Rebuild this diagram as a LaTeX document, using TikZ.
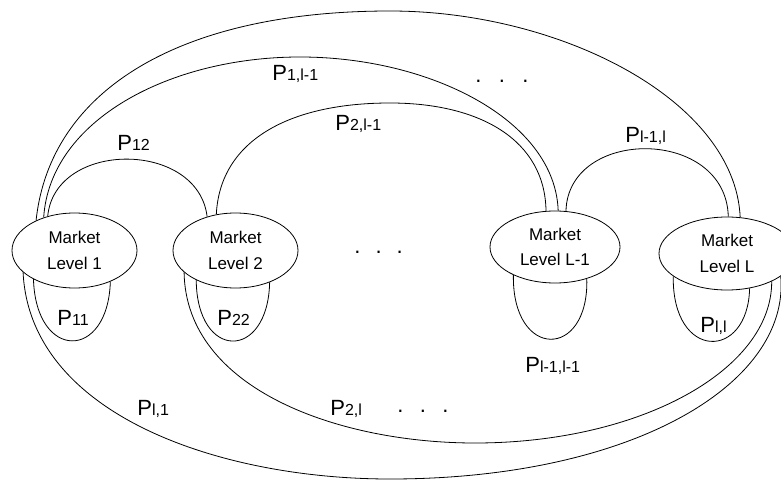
\documentclass[tikz,border=0pt]{standalone}
\usepackage{fontspec}
\setmainfont{Liberation Sans}
\usetikzlibrary{shapes.geometric}
% probability label: P with a smaller index on the same baseline
\newcommand\plab[1]{P{\fontsize{16}{19}\selectfont #1}}
\begin{document}
\begin{tikzpicture}[x=1pt, y=-1pt, line width=0.8pt,
  market/.style={draw, ellipse, inner sep=0pt, align=center,
    font=\fontsize{17}{25.7}\selectfont},
  lab/.style={anchor=base west, inner sep=0pt, font=\fontsize{22}{26}\selectfont}]
\useasboundingbox (0,0) rectangle (781,481);
\clip (0,0) rectangle (781,481);
\fill[white] (0,0) rectangle (781,481);

% market levels
\node[market, minimum width=125pt, minimum height=75pt] (m1) at (74.5,250.5) {Market\\Level 1};
\node[market, minimum width=125pt, minimum height=75pt] (m2) at (235.5,250.5) {Market\\Level 2};
\node[market, minimum width=130pt, minimum height=72pt] (m3) at (555,247) {Market\\Level L-1};
\node[market, minimum width=136pt, minimum height=73pt] (m4) at (727,253.5) {Market\\Level L};

% transitions above the levels
\draw (m1.142) .. controls (50,90) and (180,11) .. (390,11)
               .. controls (560,11) and (735,100) .. (m4.70);
\draw (m1.133) .. controls (50,120) and (170,57) .. (300,57)
               .. controls (430,57) and (555,120) .. (m3.85);
\draw (m2.118) .. controls (220,140) and (290,103) .. (390,103)
               .. controls (480,103) and (545,140) .. (m3.104);
\draw (m1.128) .. controls (55,140) and (198,140) .. (m2.130);
\draw (m3.73) .. controls (568,127) and (726,127) .. (m4.88);

% self transitions
\draw (m1.215) .. controls (36,361) and (108,361) .. (m1.319);
\draw (m2.217) .. controls (197,361) and (268,361) .. (m2.317);
\draw (m3.214) .. controls (512,360) and (589,360) .. (m3.315);
\draw (m4.203) .. controls (672,361) and (748,361) .. (m4.303);

% transitions below the levels
\draw (m2.203) .. controls (186,390) and (340,443) .. (475,443)
               .. controls (640,443) and (772,370) .. (m4.328);
\draw (m1.203) .. controls (30,415) and (220,479) .. (390,479)
               .. controls (630,479) and (790,385) .. (m4.337);

% labels
\node[lab] (p12) at (117,151) {\plab{12}};
\node[lab] (p1l) at (272,81) {\plab{1,l-1}};
\node[lab] (p2l) at (335,131) {\plab{2,l-1}};
\node[lab] (pll1) at (625,143) {\plab{l-1,l}};
\node[lab] (p11) at (57,325) {\plab{11}};
\node[lab] (p22) at (217,325) {\plab{22}};
\node[lab] (pll) at (700,332) {\plab{l,l}};
\node[lab] (pmm) at (525,372) {\plab{l-1,l-1}};
\node[lab] (pl1) at (137,415) {\plab{l,1}};
\node[lab] (p2L) at (330,415) {\plab{2,l}};

% ellipses marking omitted levels
\node[lab] (dtop) at (475,82.5) {.\hspace{17.4pt}.\hspace{17.4pt}.};
\node[lab] (dmid) at (354,253.5) {.\hspace{15pt}.\hspace{15pt}.};
\node[lab] (dbot) at (397,412.5) {.\hspace{16.4pt}.\hspace{16.4pt}.};
\end{tikzpicture}
\end{document}
